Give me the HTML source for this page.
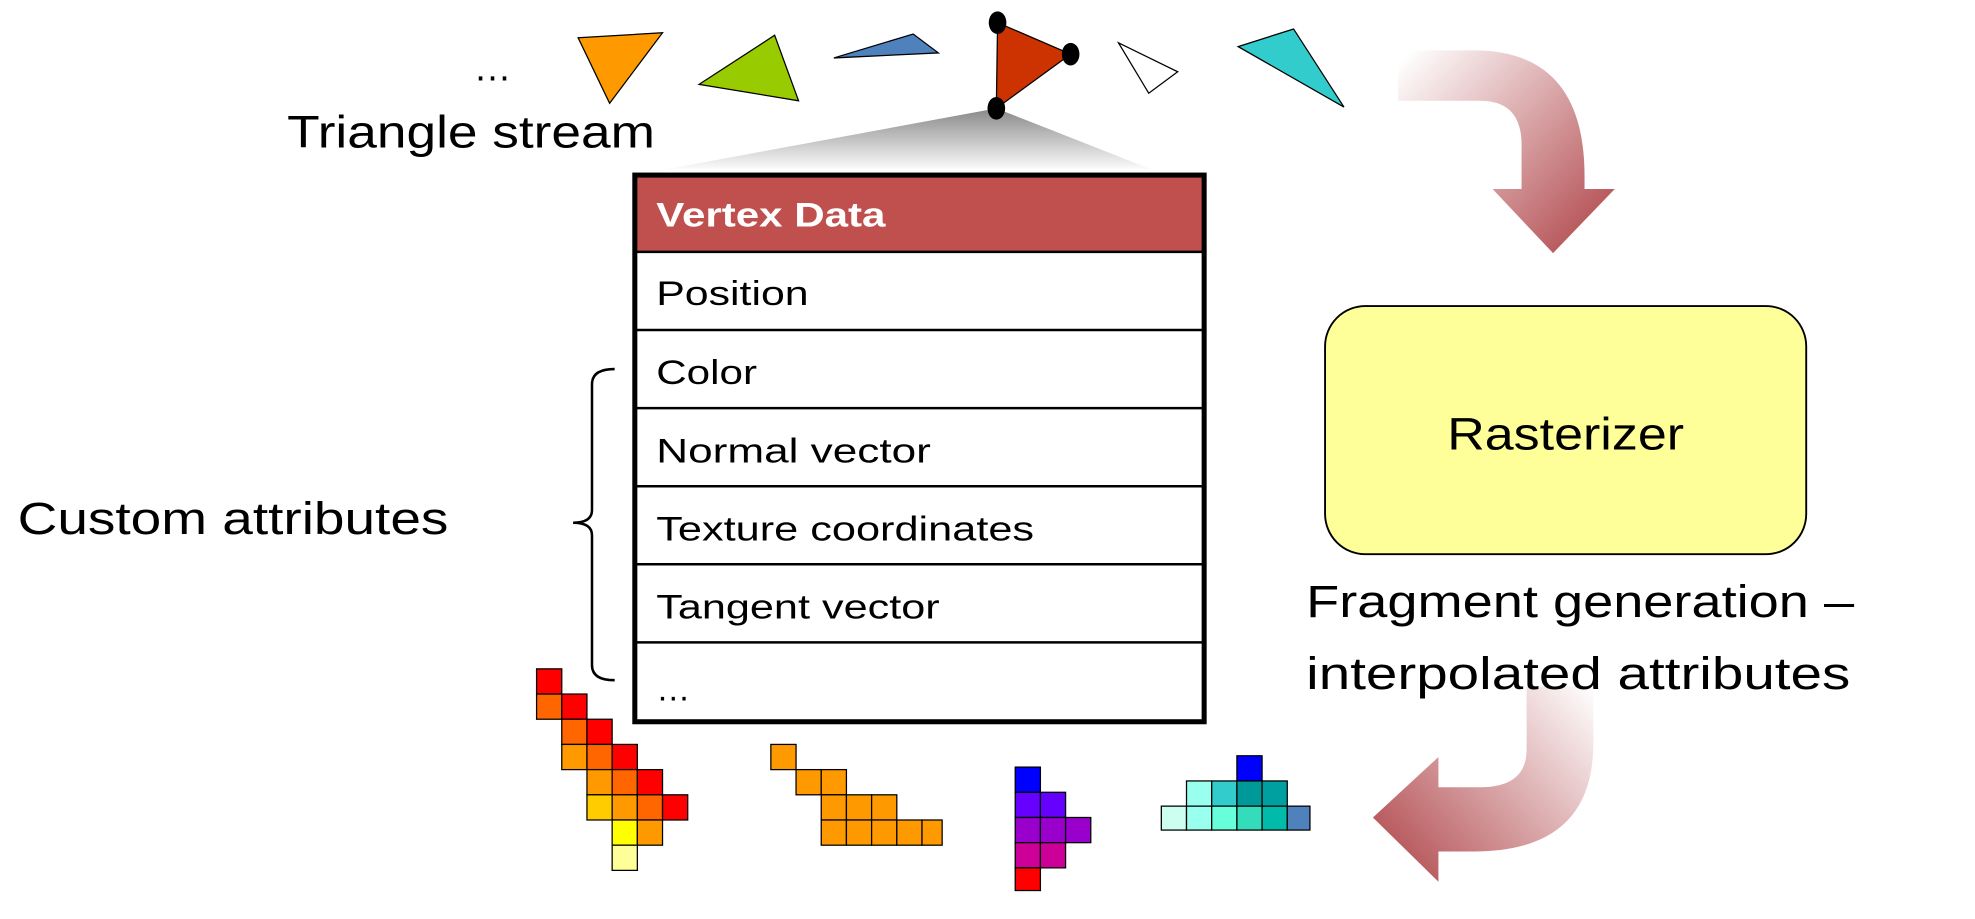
<!DOCTYPE html>
<html><head><meta charset="utf-8"><style>
html,body{margin:0;padding:0;background:#fff;}
svg{display:block;}
text{font-family:"Liberation Sans",sans-serif;fill:#000;}
</style></head><body>
<svg width="1975" height="919" viewBox="0 0 1568 729.6" preserveAspectRatio="none" xmlns="http://www.w3.org/2000/svg">
<defs>
<linearGradient id="g1" x1="1110" y1="50" x2="1270" y2="200" gradientUnits="userSpaceOnUse">
<stop offset="0" stop-color="#fff"/><stop offset="1" stop-color="#b0464a"/></linearGradient>
<linearGradient id="g2" x1="1265" y1="545" x2="1095" y2="695" gradientUnits="userSpaceOnUse">
<stop offset="0" stop-color="#fff"/><stop offset="1" stop-color="#b0464a"/></linearGradient>
<linearGradient id="gf" x1="0" y1="86" x2="0" y2="136" gradientUnits="userSpaceOnUse">
<stop offset="0" stop-color="#888"/><stop offset="1" stop-color="#fff"/></linearGradient>
</defs>
<!-- arrows -->
<path d="M1110,40 L1170,40 Q1258,40 1258,140 L1258,150 L1282,150 L1233,201 L1185,150 L1208,150 L1208,115 Q1208,80 1175,80 L1110,80 Z" fill="url(#g1)"/>
<path d="M1212,545 L1265,545 L1265,590 Q1265,676 1170,676 L1142,676 L1142,700 L1090,649 L1142,601 L1142,625 L1175,625 Q1212,625 1212,595 Z" fill="url(#g2)"/>
<!-- funnel -->
<polygon points="791,86 520,136 918,136" fill="url(#gf)"/>
<!-- triangles -->
<text x="376" y="64" font-size="30">…</text>
<text x="228" y="117" font-size="36" textLength="292" lengthAdjust="spacingAndGlyphs">Triangle stream</text>
<polygon points="459,30 526,26 484,82" fill="#ff9900" stroke="#000" stroke-width="1"/>
<polygon points="555,67 615,28 634,80" fill="#99cc00" stroke="#000" stroke-width="1"/>
<polygon points="662,46 725,27 745,42" fill="#4f81bd" stroke="#000" stroke-width="1"/>
<polygon points="888,34 935,57 912,74" fill="#fff" stroke="#000" stroke-width="1"/>
<polygon points="983,37 1027,23 1067,85" fill="#33cccc" stroke="#000" stroke-width="1"/>
<polygon points="792,18 850,43 791,86" fill="#cc3300" stroke="#000" stroke-width="1"/>
<ellipse cx="792" cy="18" rx="7" ry="9"/><ellipse cx="850" cy="43" rx="7" ry="9"/><ellipse cx="791" cy="86" rx="7" ry="9"/>
<!-- table -->
<rect x="504" y="139" width="452" height="61" fill="#c0504d"/>
<text x="521" y="180" font-size="27" font-weight="bold" fill="#fff" style="fill:#fff" textLength="182" lengthAdjust="spacingAndGlyphs">Vertex Data</text>
<g stroke="#000" stroke-width="2">
<line x1="504" y1="200" x2="956" y2="200"/><line x1="504" y1="262" x2="956" y2="262"/>
<line x1="504" y1="324" x2="956" y2="324"/><line x1="504" y1="386" x2="956" y2="386"/>
<line x1="504" y1="448" x2="956" y2="448"/><line x1="504" y1="510" x2="956" y2="510"/>
</g>
<rect x="504" y="139" width="452" height="434" fill="none" stroke="#000" stroke-width="4"/>
<g font-size="27">
<text x="521" y="242" textLength="121" lengthAdjust="spacingAndGlyphs">Position</text>
<text x="521" y="305" textLength="80" lengthAdjust="spacingAndGlyphs">Color</text>
<text x="521" y="367" textLength="218" lengthAdjust="spacingAndGlyphs">Normal vector</text>
<text x="521" y="429" textLength="300" lengthAdjust="spacingAndGlyphs">Texture coordinates</text>
<text x="521" y="491" textLength="225" lengthAdjust="spacingAndGlyphs">Tangent vector</text>
<text x="521" y="556">…</text>
</g>
<!-- brace -->
<path d="M488,293 Q470,293 470,305 L470,405 Q470,415 455,415 Q470,415 470,425 L470,528 Q470,540 488,540" fill="none" stroke="#000" stroke-width="2"/>
<text x="14" y="424" font-size="36" textLength="342" lengthAdjust="spacingAndGlyphs">Custom attributes</text>
<!-- rasterizer -->
<rect x="1052" y="243" width="382" height="197" rx="32" fill="#ffff99" stroke="#000" stroke-width="1.5"/>
<text x="1243" y="357" font-size="36" text-anchor="middle" textLength="188" lengthAdjust="spacingAndGlyphs">Rasterizer</text>
<text x="1037" y="490" font-size="36" textLength="435" lengthAdjust="spacingAndGlyphs">Fragment generation –</text>
<text x="1037" y="547" font-size="36" textLength="432" lengthAdjust="spacingAndGlyphs">interpolated attributes</text>
<!-- fragments -->
<g stroke="#000" stroke-width="1">
<rect x="426" y="531" width="20" height="20" fill="#ff0000"/>
<rect x="426" y="551" width="20" height="20" fill="#ff6600"/><rect x="446" y="551" width="20" height="20" fill="#ff0000"/>
<rect x="446" y="571" width="20" height="20" fill="#ff6600"/><rect x="466" y="571" width="20" height="20" fill="#ff0000"/>
<rect x="446" y="591" width="20" height="20" fill="#ff9900"/><rect x="466" y="591" width="20" height="20" fill="#ff6600"/><rect x="486" y="591" width="20" height="20" fill="#ff0000"/>
<rect x="466" y="611" width="20" height="20" fill="#ff9900"/><rect x="486" y="611" width="20" height="20" fill="#ff6600"/><rect x="506" y="611" width="20" height="20" fill="#ff0000"/>
<rect x="466" y="631" width="20" height="20" fill="#ffcc00"/><rect x="486" y="631" width="20" height="20" fill="#ff9900"/><rect x="506" y="631" width="20" height="20" fill="#ff6600"/><rect x="526" y="631" width="20" height="20" fill="#ff0000"/>
<rect x="486" y="651" width="20" height="20" fill="#ffff00"/><rect x="506" y="651" width="20" height="20" fill="#ff9900"/>
<rect x="486" y="671" width="20" height="20" fill="#ffff99"/>

<rect x="612" y="591" width="20" height="20" fill="#ff9900"/>
<rect x="632" y="611" width="20" height="20" fill="#ff9900"/><rect x="652" y="611" width="20" height="20" fill="#ff9900"/>
<rect x="652" y="631" width="20" height="20" fill="#ff9900"/><rect x="672" y="631" width="20" height="20" fill="#ff9900"/><rect x="692" y="631" width="20" height="20" fill="#ff9900"/>
<rect x="652" y="651" width="20" height="20" fill="#ff9900"/><rect x="672" y="651" width="20" height="20" fill="#ff9900"/><rect x="692" y="651" width="20" height="20" fill="#ff9900"/><rect x="712" y="651" width="20" height="20" fill="#ff9900"/><rect x="732" y="651" width="16" height="20" fill="#ff9900"/>

<rect x="806" y="609" width="20" height="20" fill="#0000ff"/>
<rect x="806" y="629" width="20" height="20" fill="#6600ff"/><rect x="826" y="629" width="20" height="20" fill="#6600ff"/>
<rect x="806" y="649" width="20" height="20" fill="#9900cc"/><rect x="826" y="649" width="20" height="20" fill="#9900cc"/><rect x="846" y="649" width="20" height="20" fill="#9900cc"/>
<rect x="806" y="669" width="20" height="20" fill="#cc0099"/><rect x="826" y="669" width="20" height="20" fill="#cc0099"/>
<rect x="806" y="689" width="20" height="18" fill="#ff0000"/>

<rect x="982" y="600" width="20" height="20" fill="#0000ff"/>
<rect x="942" y="620" width="20" height="20" fill="#99ffee"/><rect x="962" y="620" width="20" height="20" fill="#33cccc"/><rect x="982" y="620" width="20" height="20" fill="#009999"/><rect x="1002" y="620" width="20" height="20" fill="#00a0a0"/>
<rect x="922" y="640" width="20" height="19" fill="#ccfff0"/><rect x="942" y="640" width="20" height="19" fill="#99ffee"/><rect x="962" y="640" width="20" height="19" fill="#66ffd9"/><rect x="982" y="640" width="20" height="19" fill="#33ddbb"/><rect x="1002" y="640" width="20" height="19" fill="#00bbaa"/><rect x="1022" y="640" width="18" height="19" fill="#4f81bd"/>
</g>
</svg>
</body></html>
